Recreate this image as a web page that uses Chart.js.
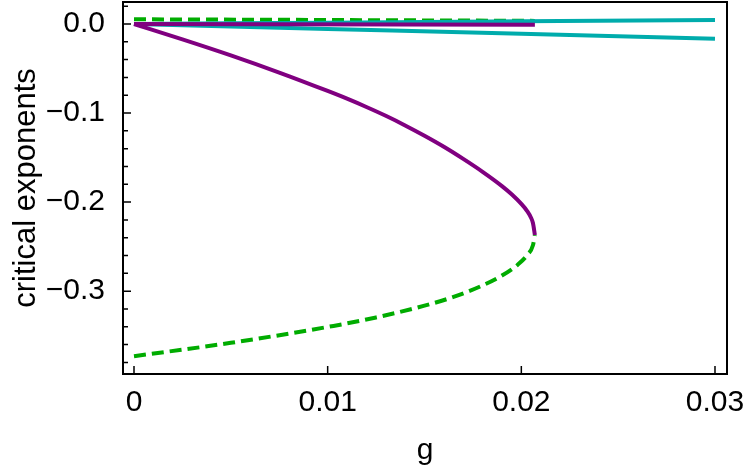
<!DOCTYPE html>
<html>
<head>
<meta charset="utf-8">
<title>critical exponents vs g</title>
<script src="https://cdn.jsdelivr.net/npm/chart.js@4"></script>
<style>
  html, body { margin: 0; padding: 0; background: #fff; }
  #wrap { width: 750px; height: 471px; }
</style>
</head>
<body>
<div id="wrap"><canvas id="chart"></canvas></div>
<script>
// ticks
const xTicks = [0, 0.01, 0.02, 0.03];
const xTickLabels = ['0', '0.01', '0.02', '0.03'];
const yTicks = [0, -0.1, -0.2, -0.3];
const yTickLabels = ['0.0', '\u22120.1', '\u22120.2', '\u22120.3'];

// purple branch (solid), from g=0 down to the turning point
const gPurple = [0, 0.0025, 0.005, 0.0075, 0.01, 0.011, 0.012, 0.013, 0.014, 0.015, 0.016, 0.017, 0.018, 0.019, 0.0195, 0.020, 0.0203, 0.0205, 0.0206, 0.0207];
const purple  = [0, -0.0172, -0.0352, -0.0545, -0.0752, -0.0839, -0.0932, -0.1031, -0.1139, -0.1255, -0.1379, -0.1515, -0.166, -0.182, -0.1912, -0.202, -0.210, -0.2175, -0.2235, -0.237];

// green branch (dashed), lower half of the same curve
const gGreenLow = [0, 0.005, 0.0103, 0.0125, 0.015, 0.0165, 0.018, 0.019, 0.0198, 0.0203, 0.0206, 0.0207];
const greenLow  = [-0.373, -0.358, -0.339, -0.3295, -0.3163, -0.3064, -0.2935, -0.2825, -0.2705, -0.2595, -0.2484, -0.237];

// near-zero branches
const gGreenTop = [0, 0.01, 0.0207];
const greenTop  = [0.0053, 0.0045, 0.0035];
const gPurpleFlat = [0, 0.0207];
const purpleFlat  = [0, -0.0008];
const gCyan = [0, 0.01, 0.02, 0.03];
const cyanUp   = [0, 0.0015, 0.003, 0.0045];
const cyanDown = [0, -0.0055, -0.011, -0.0165];

const PURPLE = 'rgb(128,0,128)';
const GREEN = 'rgb(0,172,0)';
const CYAN = 'rgb(0,172,172)';
const FONT = "'Liberation Sans', Arial, sans-serif";

function pts(xs, ys) { return xs.map((v, i) => ({x: v, y: ys[i]})); }

function line(xs, ys, color, dashed, order) {
    return {
        data: pts(xs, ys),
        borderColor: color,
        borderWidth: 4,
        borderDash: dashed ? [12, 6] : [],
        pointRadius: 0,
        fill: false,
        cubicInterpolationMode: 'monotone',
        borderCapStyle: 'butt',
        borderJoinStyle: 'round',
        order: order
    };
}

// inward tick marks + box frame
const frameTicks = {
    id: 'frameTicks',
    afterDraw(chart) {
        const {ctx, chartArea: a, scales: {x, y}} = chart;
        ctx.save();
        ctx.strokeStyle = '#000';
        ctx.lineWidth = 1.5;
        ctx.beginPath();
        xTicks.forEach(v => {
            const px = x.getPixelForValue(v);
            ctx.moveTo(px, a.bottom);
            ctx.lineTo(px, a.bottom - 8);
        });
        for (let k = -19; k <= 1; k++) {
            const py = y.getPixelForValue(k * 0.02);
            const len = (k % 5 === 0) ? 8 : 5;
            ctx.moveTo(a.left, py);
            ctx.lineTo(a.left + len, py);
        }
        ctx.stroke();
        ctx.lineWidth = 2;
        ctx.strokeRect(a.left, a.top, a.right - a.left, a.bottom - a.top);
        ctx.restore();
    }
};

new Chart(document.getElementById('chart'), {
    type: 'line',
    data: {
        datasets: [
            line(gGreenTop, greenTop, GREEN, true, 6),
            line(gCyan, cyanUp, CYAN, false, 5),
            line(gCyan, cyanDown, CYAN, false, 4),
            line(gPurpleFlat, purpleFlat, PURPLE, false, 3),
            line(gPurple, purple, PURPLE, false, 2),
            line(gGreenLow, greenLow, GREEN, true, 1)
        ]
    },
    options: {
        responsive: true,
        maintainAspectRatio: false,
        animation: false,
        layout: { padding: { top: 2, right: 23, left: 0, bottom: 0 } },
        plugins: { legend: { display: false }, tooltip: { enabled: false } },
        scales: {
            x: {
                type: 'linear',
                min: -0.000568,
                max: 0.03062,
                grid: { display: false },
                border: { display: false },
                afterBuildTicks: s => { s.ticks = xTicks.map(v => ({value: v})); },
                afterFit: s => { s.height = 97; s.paddingLeft = 0; s.paddingRight = 0; },
                ticks: {
                    color: '#000',
                    padding: 3,
                    maxRotation: 0,
                    font: { family: FONT, size: 30 },
                    callback: (v, i) => xTickLabels[i]
                },
                title: {
                    display: true,
                    text: 'g',
                    color: '#000',
                    font: { family: FONT, size: 30 },
                    padding: { top: 0, bottom: 2 }
                }
            },
            y: {
                type: 'linear',
                min: -0.393,
                max: 0.0247,
                grid: { display: false },
                border: { display: false },
                afterBuildTicks: s => { s.ticks = yTicks.map(v => ({value: v})); },
                afterFit: s => { s.width = 123; s.paddingTop = 0; s.paddingBottom = 0; },
                ticks: {
                    color: '#000',
                    padding: 10,
                    font: { family: FONT, size: 30 },
                    callback: (v, i) => yTickLabels[i]
                },
                title: {
                    display: true,
                    text: 'critical exponents',
                    color: '#000',
                    font: { family: FONT, size: 31 },
                    padding: { top: 8, bottom: 0 }
                }
            }
        }
    },
    plugins: [frameTicks]
});
</script>
</body>
</html>
